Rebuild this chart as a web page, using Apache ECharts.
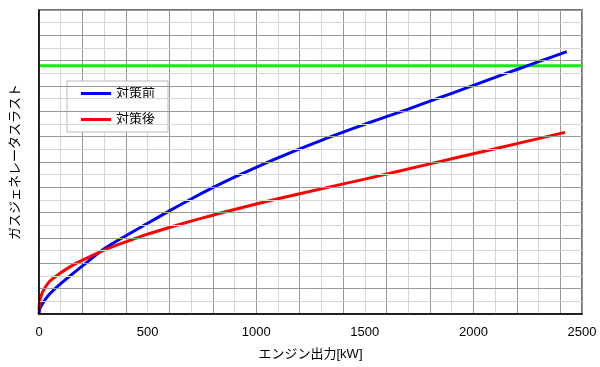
<!DOCTYPE html>
<html>
<head>
<meta charset="utf-8">
<script src="https://cdn.jsdelivr.net/npm/echarts@6/dist/echarts.min.js"></script>
<style>
html,body{margin:0;padding:0;background:#fff;}
#chart{width:600px;height:367px;}
</style>
</head>
<body>
<div id="chart"></div>
<script>
// Data (y axis is unlabeled; values in grid units)
const seriesNames = ['対策前', '対策後'];
const xTicks = [0, 500, 1000, 1500, 2000, 2500];
const beforeX = [0, 5, 25, 50, 100, 200, 300, 400, 500, 600, 700, 800, 900, 1000, 1100, 1200, 1300, 1400, 1500, 1600, 1700, 1800, 1900, 2000, 2100, 2200, 2300, 2430];
const beforeY = [0, 0.45, 1.05, 1.6, 2.4, 3.8, 5.15, 6.18, 7.16, 8.14, 9.08, 9.97, 10.8, 11.58, 12.32, 13.03, 13.71, 14.36, 14.98, 15.58, 16.18, 16.8, 17.42, 18.05, 18.68, 19.3, 19.92, 20.71];
const afterX = [0, 5, 20, 50, 100, 150, 200, 300, 400, 500, 600, 700, 800, 900, 1000, 1200, 1500, 1800, 2100, 2422];
const afterY = [0.3, 1.15, 1.85, 2.6, 3.25, 3.8, 4.25, 5.05, 5.7, 6.3, 6.83, 7.33, 7.8, 8.25, 8.68, 9.5, 10.65, 11.85, 13.05, 14.34];
const limitValue = 19.6;
const limitX = [0, 2500];

const FONT = "'Liberation Sans', 'Noto Sans CJK JP', sans-serif";
const zip = (xs, ys) => xs.map((x, i) => [x, ys[i]]);

const chart = echarts.init(document.getElementById('chart'));
chart.setOption({
  animation: false,
  backgroundColor: '#fff',
  textStyle: { fontFamily: FONT },
  grid: { left: 39, right: 18, top: 10, bottom: 53, show: true, borderColor: '#444', borderWidth: 1.5, backgroundColor: 'transparent' },
  legend: {
    orient: 'vertical',
    left: 67, top: 81,
    padding: [6, 13, 6, 14],
    itemGap: 13,
    itemWidth: 30, itemHeight: 3,
    icon: 'rect',
    backgroundColor: '#fff',
    borderColor: '#bbb', borderWidth: 1,
    textStyle: { fontSize: 13, color: '#000', fontFamily: FONT },
    data: seriesNames
  },
  xAxis: [
    { type: 'value', min: 0, max: 2500, interval: 100, position: 'bottom', z: 0,
      axisLine: { show: false }, axisTick: { show: false }, axisLabel: { show: false },
      splitLine: { show: true, lineStyle: { color: '#d6d6d6', width: 1 } } },
    { type: 'value', min: 0, max: 2500, interval: 200, position: 'bottom', z: 0,
      axisLine: { show: false }, axisTick: { show: false }, axisLabel: { show: false },
      splitLine: { show: true, lineStyle: { color: '#999', width: 1 } } },
    { type: 'value', min: 0, max: 2500, interval: 500, position: 'bottom', z: 5,
      name: 'エンジン出力[kW]', nameLocation: 'middle', nameGap: 34,
      nameTextStyle: { fontSize: 13, color: '#000', fontFamily: FONT },
      axisLine: { show: true, lineStyle: { color: '#000', width: 1.5 } },
      axisTick: { show: false },
      axisLabel: { show: true, fontSize: 13, color: '#000', margin: 12, fontFamily: FONT,
        customValues: xTicks, formatter: v => String(v) },
      splitLine: { show: false } }
  ],
  yAxis: [
    { type: 'value', min: 0, max: 24, interval: 2, z: 5,
      name: 'ガスジェネレータスラスト', nameLocation: 'middle', nameGap: 17,
      nameTextStyle: { fontSize: 13, color: '#000', fontFamily: FONT },
      axisLine: { show: true, lineStyle: { color: '#000', width: 1.5 } },
      axisTick: { show: false }, axisLabel: { show: false },
      splitLine: { show: true, lineStyle: { color: '#999', width: 1 } },
      minorTick: { show: false, splitNumber: 2 },
      minorSplitLine: { show: true, lineStyle: { color: '#d6d6d6', width: 1 } } }
  ],
  series: [
    { name: 'limit', type: 'line', xAxisIndex: 2, data: zip(limitX, [limitValue, limitValue]),
      showSymbol: false, lineStyle: { color: '#11ee11', width: 3 }, itemStyle: { color: '#11ee11' }, z: 3 },
    { name: seriesNames[0], type: 'line', xAxisIndex: 2, data: zip(beforeX, beforeY), smooth: 0.3,
      showSymbol: false, lineStyle: { color: '#0000ff', width: 3 }, itemStyle: { color: '#0000ff' }, z: 4 },
    { name: seriesNames[1], type: 'line', xAxisIndex: 2, data: zip(afterX, afterY), smooth: 0.3,
      showSymbol: false, lineStyle: { color: '#ff0000', width: 3 }, itemStyle: { color: '#ff0000' }, z: 4 }
  ]
});
</script>
</body>
</html>
